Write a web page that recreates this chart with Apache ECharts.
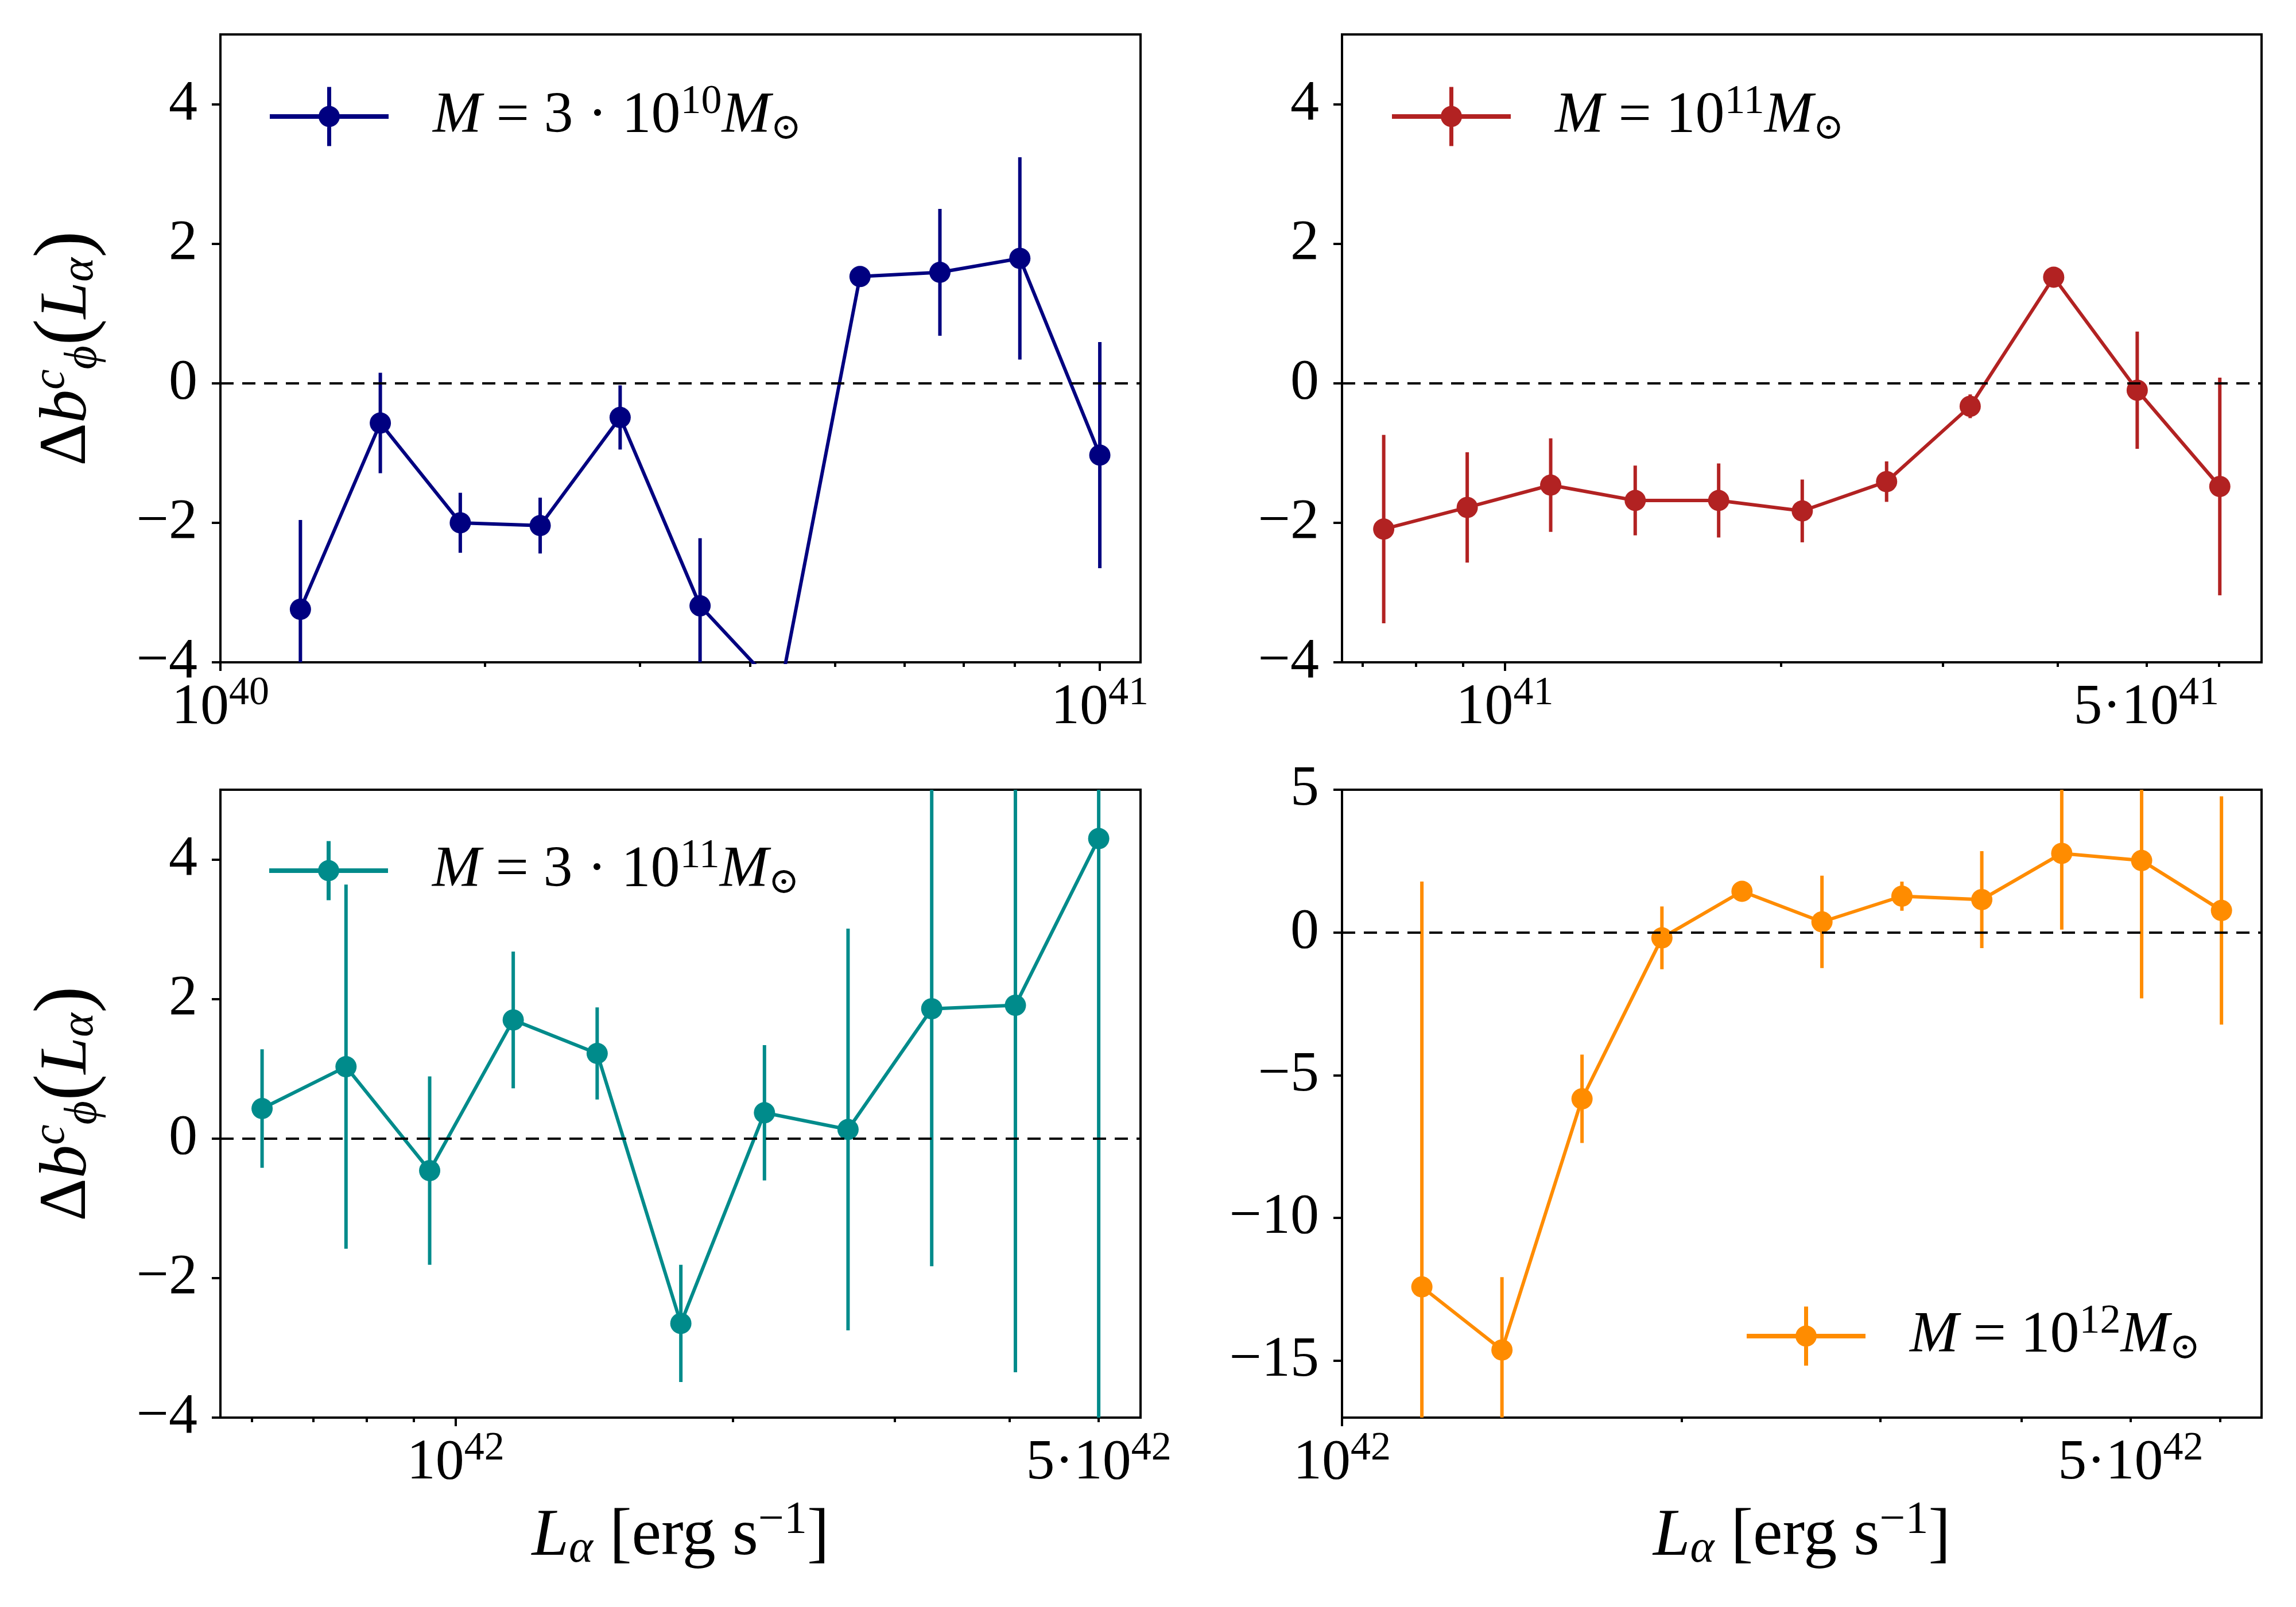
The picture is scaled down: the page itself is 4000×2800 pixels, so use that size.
<!DOCTYPE html>
<html><head><meta charset="utf-8">
<script src="https://cdn.jsdelivr.net/npm/echarts@6.0.0/dist/echarts.min.js"></script>
<style>html,body{margin:0;padding:0;background:#fff}#c{width:4000px;height:2800px}</style>
</head><body><div id="c"></div>
<script>
// ---------------- data ----------------
// Panel a : M = 3e10 Msun
const L_a   = [1.233e40, 1.520e40, 1.874e40, 2.310e40, 2.848e40, 3.511e40, 4.329e40, 5.337e40, 6.579e40, 8.111e40, 1.000e41];
const dB_a  = [-3.24, -0.57, -2.00, -2.04, -0.49, -3.19, -4.42, 1.53, 1.59, 1.79, -1.03];
const err_a = [1.28, 0.72, 0.43, 0.40, 0.46, 0.97, 0.35, 0.08, 0.91, 1.45, 1.62];
// Panel b : M = 1e11 Msun
const L_b   = [7.38e40, 9.10e40, 1.122e41, 1.387e41, 1.710e41, 2.109e41, 2.606e41, 3.214e41, 3.963e41, 4.887e41, 6.012e41];
const dB_b  = [-2.09, -1.78, -1.46, -1.68, -1.68, -1.83, -1.41, -0.33, 1.52, -0.10, -1.48];
const err_b = [1.35, 0.79, 0.67, 0.50, 0.53, 0.45, 0.29, 0.17, 0.08, 0.84, 1.56];
// Panel c : M = 3e11 Msun
const L_c   = [6.16e41, 7.60e41, 9.37e41, 1.155e42, 1.425e42, 1.757e42, 2.166e42, 2.670e42, 3.292e42, 4.059e42, 5.00e42];
const dB_c  = [0.43, 1.03, -0.46, 1.70, 1.22, -2.65, 0.37, 0.13, 1.86, 1.91, 4.30];
const err_c = [0.85, 2.61, 1.35, 0.98, 0.66, 0.84, 0.97, 2.88, 3.69, 5.26, 9.0];
// Panel d : M = 1e12 Msun
const L_d   = [1.177e42, 1.386e42, 1.632e42, 1.921e42, 2.262e42, 2.663e42, 3.135e42, 3.690e42, 4.344e42, 5.113e42, 6.018e42];
const dB_d  = [-12.42, -14.63, -5.83, -0.19, 1.44, 0.37, 1.27, 1.15, 2.77, 2.52, 0.77];
const err_d = [14.2, 2.55, 1.55, 1.10, 0.12, 1.62, 0.51, 1.70, 2.67, 4.83, 4.0];

// axis ranges and tick labels
const xRange_a = [1e40, 1.1125e41];
const xRange_b = [6.647e40, 6.676e41];
const xRange_c = [5.550e41, 5.552e42];
const xRange_d = [1e42, 6.531e42];
const xTicks_a = [1e40, 1e41];
const xTicks_b = [1e41, 5e41];
const xTicks_c = [1e42, 5e42];
const xTicks_d = [1e42, 5e42];
const yRange_a = [-4, 5];
const yRange_b = [-4, 5];
const yRange_c = [-4, 5];
const yRange_d = [-17, 5];
const yTicks_a = [-4, -2, 0, 2, 4];
const yTicks_b = [-4, -2, 0, 2, 4];
const yTicks_c = [-4, -2, 0, 2, 4];
const yTicks_d = [-15, -10, -5, 0, 5];

const names  = ['M = 3·10¹⁰ M☉', 'M = 10¹¹ M☉', 'M = 3·10¹¹ M☉', 'M = 10¹² M☉'];
const colors = ['#000080', '#b22222', '#008b8b', '#ff8c00'];

// ---------------- styling ----------------
const FONT = 'Liberation Serif';
const lg = Math.log10;
const TICK_FS = 100, LAB_FS = 116, LEG_FS = 102;

const grids = [
  {left: 384,  top: 60,   width: 1603, height: 1094},
  {left: 2338, top: 60,   width: 1602, height: 1094},
  {left: 384,  top: 1376, width: 1603, height: 1094},
  {left: 2338, top: 1376, width: 1602, height: 1094}
];
const legendPos = [
  {left: 470,  top: 142},
  {left: 2425, top: 142},
  {left: 469,  top: 1456},
  {left: 3043, top: 2267}
];
const legendRich = [
  '{g| }{i|M}{n| = 3 · 10}{sup|10}{i|M}{sub|⊙}',
  '{g| }{i|M}{n| = 10}{sup|11}{i|M}{sub|⊙}',
  '{g| }{i|M}{n| = 3 · 10}{sup|11}{i|M}{sub|⊙}',
  '{g| }{i|M}{n| = 10}{sup|12}{i|M}{sub|⊙}'
];

const panels = [
  {L: L_a, y: dB_a, e: err_a, xr: xRange_a, xt: xTicks_a, yr: yRange_a, yt: yTicks_a},
  {L: L_b, y: dB_b, e: err_b, xr: xRange_b, xt: xTicks_b, yr: yRange_b, yt: yTicks_b},
  {L: L_c, y: dB_c, e: err_c, xr: xRange_c, xt: xTicks_c, yr: yRange_c, yt: yTicks_c},
  {L: L_d, y: dB_d, e: err_d, xr: xRange_d, xt: xTicks_d, yr: yRange_d, yt: yTicks_d}
];

function logTicks(range) {
  const lo = lg(range[0]) - 1e-9, hi = lg(range[1]) + 1e-9;
  const major = [], minor = [];
  for (let e = Math.floor(lo); e <= Math.ceil(hi); e++) {
    for (let k = 1; k <= 9; k++) {
      const v = lg(k) + e;
      if (v >= lo && v <= hi) (k === 1 ? major : minor).push(v);
    }
  }
  return {major, minor};
}

const tickLine = {color: '#000', width: 4};
const xRich = {
  b: {fontFamily: FONT, fontSize: TICK_FS, color: '#000'},
  s: {fontFamily: FONT, fontSize: 70, color: '#000', padding: [0, 0, 50, 0]}
};
function xFmt(v) {
  const e = Math.floor(v + 1e-6);
  const m = Math.round(Math.pow(10, v - e));
  return m === 1 ? '{b|10}{s|' + e + '}' : '{b|' + m + '·10}{s|' + e + '}';
}
const nameRich = {
  n:  {fontFamily: FONT, fontSize: LAB_FS, color: '#000'},
  i:  {fontFamily: FONT, fontSize: LAB_FS, fontStyle: 'italic', color: '#000'},
  p:  {fontFamily: FONT, fontSize: 140, color: '#000'},
  sc: {fontFamily: FONT, fontSize: 80, fontStyle: 'italic', color: '#000', padding: [0, 0, 56, 0]},
  sp: {fontFamily: FONT, fontSize: 80, fontStyle: 'italic', color: '#000', padding: [56, 0, 0, 0]},
  sa: {fontFamily: FONT, fontSize: 80, fontStyle: 'italic', color: '#000', padding: [44, 0, 0, 0]},
  su: {fontFamily: FONT, fontSize: 80, color: '#000', padding: [0, 0, 56, 0]}
};
const yName = '{n|Δ}{i|b}{sc|c}{sp|ϕ}{p|(}{i|L}{sa|α}{p|)}';
const xName = '{i|L}{sa|α}{n| [erg s}{su|−1}{n|]}';

const ICON = 'path://M0,47.5H207V55.5H0Z M100,0H107V103H100Z M85,51.5A18.5,18.5,0,1,1,122,51.5A18.5,18.5,0,1,1,85,51.5Z';

const option = {
  backgroundColor: '#fff',
  animation: false,
  grid: grids.map(g => Object.assign({show: true, borderColor: '#000', borderWidth: 4, backgroundColor: 'transparent'}, g)),
  xAxis: [], yAxis: [], series: [], legend: []
};

panels.forEach((p, i) => {
  const t = logTicks(p.xr);
  const xmin = lg(p.xr[0]), xmax = lg(p.xr[1]);
  const mainX = {
    type: 'value', gridIndex: i, min: xmin, max: xmax, position: 'bottom',
    axisLine: {show: false, onZero: false}, splitLine: {show: false},
    axisTick: {show: true, customValues: t.major, length: 15, lineStyle: tickLine},
    axisLabel: {customValues: p.xt.map(lg), formatter: xFmt, rich: xRich, margin: 20, color: '#000', hideOverlap: false}
  };
  if (i >= 2) {
    Object.assign(mainX, {name: xName, nameLocation: 'middle', nameGap: 140, nameTextStyle: {rich: nameRich}});
  }
  option.xAxis.push(mainX);
  option.xAxis.push({
    type: 'value', gridIndex: i, min: xmin, max: xmax, position: 'bottom',
    axisLine: {show: false, onZero: false}, splitLine: {show: false},
    axisTick: {show: true, customValues: t.minor, length: 8, lineStyle: tickLine},
    axisLabel: {show: false}
  });
  const yAx = {
    type: 'value', gridIndex: i, min: p.yr[0], max: p.yr[1], position: 'left',
    axisLine: {show: false, onZero: false}, splitLine: {show: false},
    axisTick: {show: true, customValues: p.yt, length: 15, lineStyle: tickLine},
    axisLabel: {customValues: p.yt, margin: 40, fontFamily: FONT, fontSize: TICK_FS, color: '#000',
      formatter: v => (v < 0 ? '\u2212' + (-v) : '' + v)}
  };
  if (i % 2 === 0) {
    Object.assign(yAx, {name: yName, nameLocation: 'middle', nameRotate: 90, nameGap: 196, nameTextStyle: {rich: nameRich}});
  }
  option.yAxis.push(yAx);

  const col = colors[i];
  option.series.push({
    type: 'custom', name: names[i] + ' err', xAxisIndex: 2 * i, yAxisIndex: i, clip: true, silent: true, z: 2,
    data: p.L.map((v, k) => [lg(v), p.y[k], p.e[k]]),
    encode: {x: 0, y: 1},
    renderItem: function (params, api) {
      const x = api.value(0), y = api.value(1), e = api.value(2);
      const a = api.coord([x, y - e]), b = api.coord([x, y + e]);
      return {type: 'line', shape: {x1: a[0], y1: a[1], x2: b[0], y2: b[1]}, style: {stroke: col, lineWidth: 6}};
    }
  });
  option.series.push({
    type: 'line', name: names[i], xAxisIndex: 2 * i, yAxisIndex: i, clip: true, z: 3,
    data: p.L.map((v, k) => [lg(v), p.y[k]]),
    symbol: 'circle', symbolSize: 37, showAllSymbol: true,
    lineStyle: {color: col, width: 6}, itemStyle: {color: col},
    markLine: {silent: true, symbol: 'none', label: {show: false},
      lineStyle: {type: [23, 15], color: '#000', width: 4}, data: [{yAxis: 0}]}
  });
  option.legend.push({
    data: [names[i]], left: legendPos[i].left, top: legendPos[i].top, padding: 0,
    itemWidth: 207, itemHeight: 103, icon: ICON, selectedMode: false,
    itemStyle: {color: col, borderWidth: 0},
    formatter: () => legendRich[i],
    textStyle: {color: '#000', fontFamily: FONT, fontSize: LEG_FS, rich: {
      g: {width: 72, fontSize: LEG_FS},
      n: {fontFamily: FONT, fontSize: LEG_FS, color: '#000'},
      i: {fontFamily: FONT, fontSize: LEG_FS, fontStyle: 'italic', color: '#000'},
      sup: {fontFamily: FONT, fontSize: 72, color: '#000', padding: [0, 0, 50, 0]},
      sub: {fontFamily: 'DejaVu Serif', fontSize: 64, color: '#000', padding: [44, 0, 0, 0]}
    }}
  });
});

const chart = echarts.init(document.getElementById('c'), null, {renderer: 'canvas', width: 4000, height: 2800});
chart.setOption(option);
</script>
</body></html>
